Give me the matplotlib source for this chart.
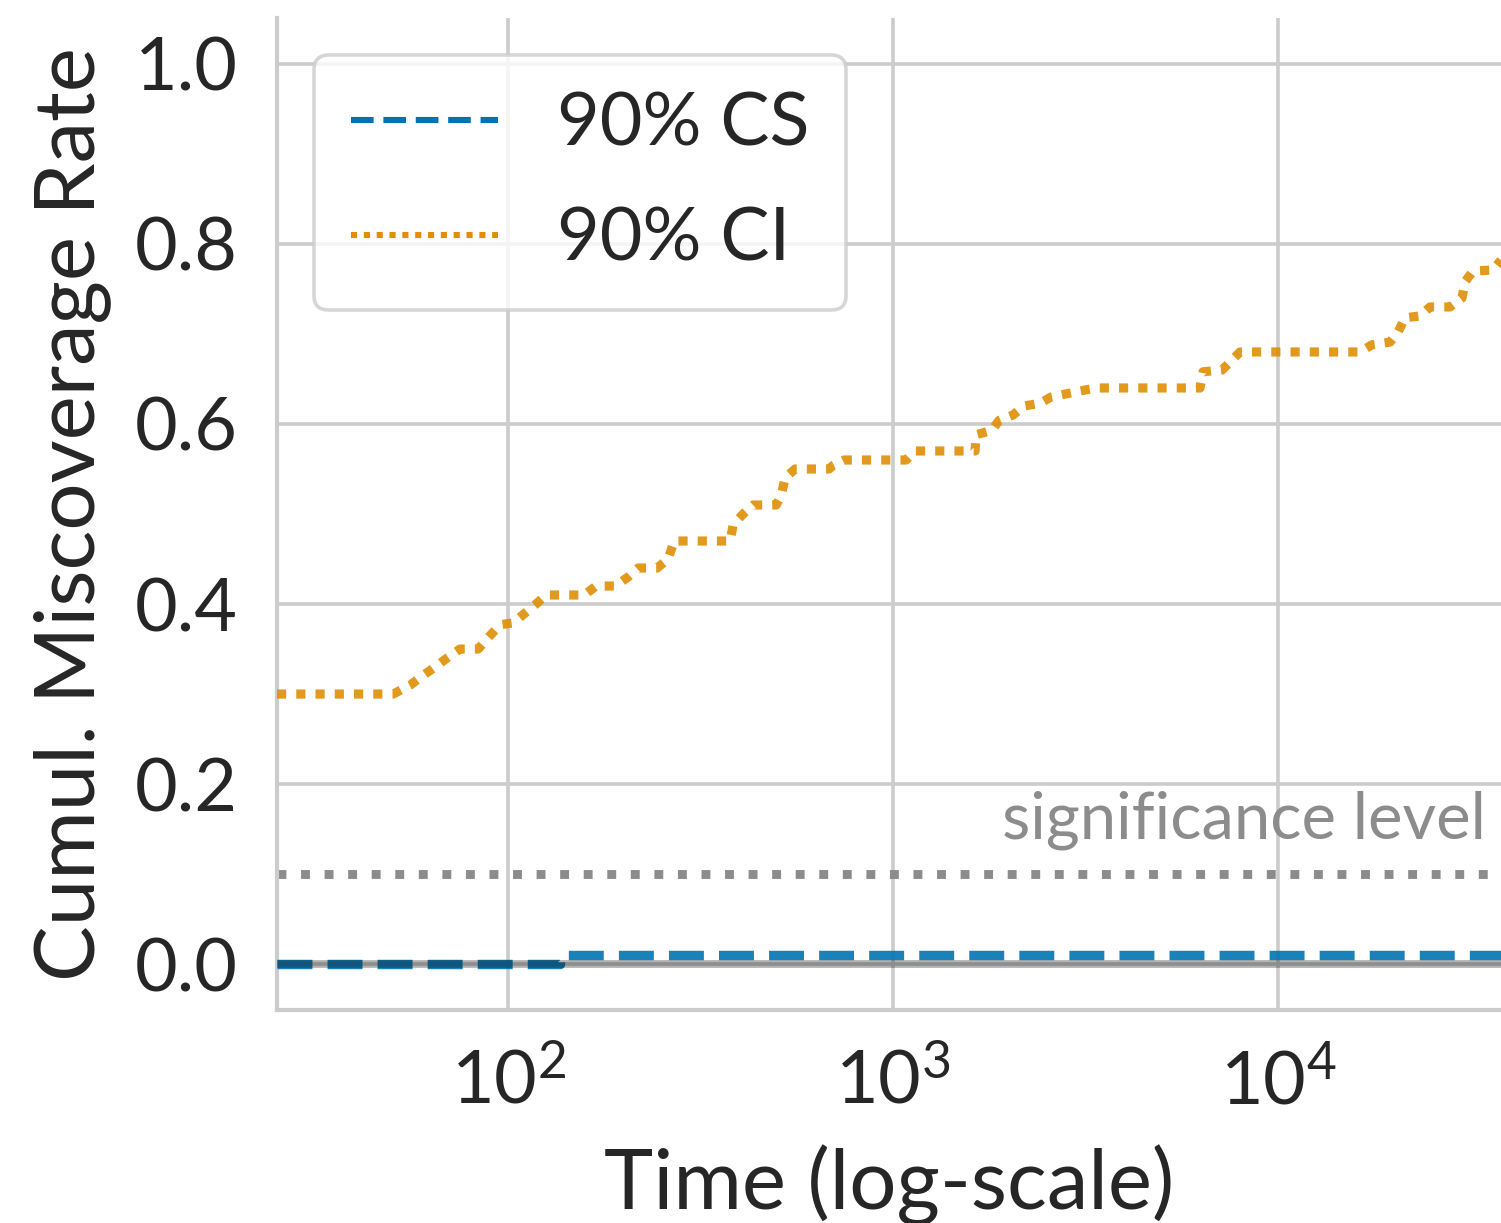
import matplotlib.pyplot as plt
from matplotlib.transforms import blended_transform_factory

# cumulative miscoverage of the running 90% interval (CI) and sequence (CS)
ci_time = [25.1, 50.3, 55.7, 59.8, 64.6, 69.4, 75.0, 83.6, 89.8, 95.3,
           103.0, 110.7, 118.2, 125.5, 157.6, 169.3, 189.7, 205.0, 217.6,
           243.8, 260.4, 269.9, 377.4, 384.2, 407.7, 432.9, 496.7, 511.8,
           524.2, 556.6, 682.1, 698.6, 746.1, 1081, 1140, 1633, 1643,
           1807, 1885, 2050, 2189, 2409, 2573, 3171, 3400, 6272, 6387,
           7153, 7596, 7967, 16330, 17545, 19540, 20500, 21370, 23380,
           24820, 27980, 30060, 30600, 32100, 36170, 37950]
ci_rate = [0.30, 0.30, 0.31, 0.32, 0.33, 0.34, 0.35, 0.35, 0.365, 0.377,
           0.379, 0.39, 0.40, 0.41, 0.41, 0.42, 0.42, 0.43, 0.44,
           0.44, 0.45, 0.47, 0.47, 0.488, 0.50, 0.51, 0.51, 0.52,
           0.54, 0.55, 0.55, 0.554, 0.56, 0.56, 0.57, 0.57, 0.588,
           0.593, 0.604, 0.61, 0.62, 0.623, 0.63, 0.638, 0.64, 0.64, 0.658,
           0.66, 0.671, 0.68, 0.68, 0.688, 0.691, 0.702, 0.718, 0.72,
           0.73, 0.73, 0.74, 0.758, 0.77, 0.771, 0.782]

cs_time = [25.1, 136, 37950]
cs_rate = [0.0, 0.01, 0.01]

alpha_level = 0.1
x_range = (25.1, 37950)

BLUE = "#0173B2"
ORANGE = "#DE8F05"
TEXT = "#262626"

plt.rcParams["font.family"] = ["Lato", "DejaVu Sans"]
plt.rcParams["mathtext.fontset"] = "custom"
plt.rcParams["mathtext.rm"] = "Lato"
plt.rcParams["mathtext.it"] = "Lato:italic"
plt.rcParams["text.color"] = TEXT
plt.rcParams["axes.labelcolor"] = TEXT
plt.rcParams["xtick.color"] = TEXT
plt.rcParams["ytick.color"] = TEXT

fig = plt.figure(figsize=(7.505, 6.115), dpi=200)
ax = fig.add_axes([277 / 1501, 213 / 1223, 1 - 277 / 1501, (1010 - 18) / 1223])

ax.plot(cs_time, cs_rate, color=BLUE, lw=3.4, ls="--", alpha=0.9,
        drawstyle="steps-post", solid_joinstyle="round",
        dash_joinstyle="round", label="90% CS", zorder=3)
ax.plot(ci_time, ci_rate, color=ORANGE, lw=3.3, alpha=0.9,
        dashes=(1, 1.1), dash_joinstyle="round", label="90% CI", zorder=3)

ax.axhline(0, color="black", alpha=0.3, lw=2.8, zorder=4)
ax.axhline(alpha_level, color="#8c8c8c", lw=3.2, ls=":", zorder=2)
ax.text(0.988, 0.14, "significance level", color="#8c8c8c", fontsize=23.5,
        ha="right", va="baseline",
        transform=blended_transform_factory(ax.transAxes, ax.transData))

ax.set_xscale("log")
ax.set_xlim(*x_range)
ax.set_ylim(-0.051, 1.051)
ax.set_yticks([0.0, 0.2, 0.4, 0.6, 0.8, 1.0])
ax.yaxis.set_major_formatter(plt.FormatStrFormatter("%.1f"))
ax.minorticks_off()

ax.grid(True, color="#cccccc", lw=1.3)
ax.set_axisbelow(True)
for side in ("top", "right"):
    ax.spines[side].set_visible(False)
for side in ("left", "bottom"):
    ax.spines[side].set_color("#cccccc")
    ax.spines[side].set_linewidth(1.5)

ax.tick_params(axis="both", length=0, labelsize=26.5)
ax.tick_params(axis="y", pad=14)
ax.tick_params(axis="x", pad=14)

ax.set_xlabel("Time (log-scale)", fontsize=30, labelpad=9.5)
ax.set_ylabel("Cumul. Miscoverage Rate", fontsize=30, labelpad=8.5)

leg = ax.legend(loc="upper left", fontsize=26.5, framealpha=0.8,
                edgecolor="#cccccc", fancybox=True, labelspacing=0.65,
                borderpad=0.5)
leg.get_frame().set_linewidth(1.3)
for line in leg.get_lines():
    line.set_linewidth(2.2)
    line.set_alpha(1.0)

fig.savefig("out.png", dpi=200)
